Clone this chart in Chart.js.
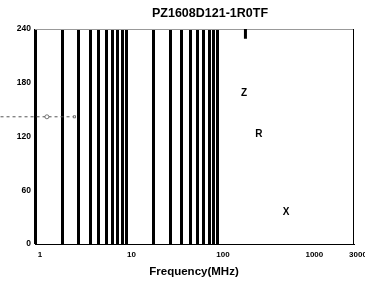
<!DOCTYPE html>
<html lang="en">
<head>
    <meta charset="UTF-8">
    <script src="https://cdn.jsdelivr.net/npm/chart.js"></script>
    <title>PZ1608D121-1R0TF</title>
    <style>
        body { margin: 0; background: #fff; overflow: hidden; }
    </style>
</head>
<body>
    <canvas id="impChart" width="365" height="281"></canvas>

    <script>
    // frequency grid (MHz) drawn as heavy vertical lines
    const gridFreqs = [1, 2, 3, 4, 5, 6, 7, 8, 9, 10, 20, 30, 40, 50, 60, 70, 80, 90, 100];
    const freqLabels = [1, 10, 100, 1000, 3000];
    const impTicks = [0, 60, 120, 180, 240];

    // curve names and where they sit (freq, ohm)
    const curveNames = ['Z', 'R', 'X'];
    const nameFreq = [193, 281, 555];
    const nameImp = [168, 123, 35];

    // short mark at the top near 200 MHz
    const markFreq = [200, 200];
    const markImp = [240, 229];

    // stray dashed legend stub on the left
    const stubFreq = [0.42, 1.35, 2.7];
    const stubImp = [142, 142, 142];

    const font = 'Liberation Sans, Arial, sans-serif';

    const extras = {
        id: 'extras',
        beforeDatasetsDraw(chart) {
            const {ctx, chartArea: a} = chart;
            ctx.save();
            ctx.lineWidth = 1;
            ctx.strokeStyle = '#999';
            ctx.beginPath();
            ctx.moveTo(a.left, a.top + 0.5);
            ctx.lineTo(a.right, a.top + 0.5);
            ctx.stroke();
            ctx.strokeStyle = '#000';
            ctx.beginPath();
            ctx.moveTo(a.right + 0.5, a.top);
            ctx.lineTo(a.right + 0.5, a.bottom);
            ctx.stroke();
            ctx.restore();
        },
        afterDraw(chart) {
            const {ctx, chartArea: a, scales} = chart;
            ctx.save();
            ctx.fillStyle = '#000';
            ctx.textAlign = 'center';
            ctx.textBaseline = 'middle';
            ctx.font = 'bold 12.5px ' + font;
            ctx.fillText('PZ1608D121-1R0TF', 210, 14);
            ctx.font = 'bold 11.5px ' + font;
            ctx.fillText('Frequency(MHz)', (a.left + a.right) / 2, 272);
            ctx.font = 'bold 10px ' + font;
            curveNames.forEach((n, i) => {
                ctx.fillText(n, scales.x.getPixelForValue(nameFreq[i]), scales.y.getPixelForValue(nameImp[i]));
            });
            ctx.restore();
        }
    };

    new Chart(document.getElementById('impChart'), {
        type: 'line',
        data: {
            datasets: [{
                data: markFreq.map((f, i) => ({x: f, y: markImp[i]})),
                borderColor: '#000',
                borderWidth: 3,
                pointRadius: 0
            }, {
                data: stubFreq.map((f, i) => ({x: f, y: stubImp[i]})),
                borderColor: '#555',
                borderWidth: 1,
                borderDash: [3, 3],
                pointRadius: [0, 2, 1.5],
                pointStyle: ['circle', 'circle', 'rect'],
                pointBorderColor: '#555',
                pointBackgroundColor: '#fff',
                pointBorderWidth: 0.8,
                clip: false
            }]
        },
        options: {
            responsive: false,
            animation: false,
            layout: { padding: { top: 29, right: 12, left: 0, bottom: 0 } },
            plugins: {
                legend: { display: false },
                tooltip: { enabled: false }
            },
            scales: {
                x: {
                    type: 'logarithmic',
                    min: 1,
                    max: 3000,
                    afterBuildTicks: (s) => {
                        s.ticks = gridFreqs.concat([1000, 3000]).map(v => ({value: v}));
                    },
                    afterFit: (s) => {
                        s.height = 37;
                        s.paddingLeft = 0;
                        s.paddingRight = 0;
                    },
                    grid: {
                        drawTicks: false,
                        color: '#000',
                        lineWidth: (c) => (c.tick && c.tick.value <= 100 ? 3 : 0)
                    },
                    border: { color: '#000', width: 1 },
                    ticks: {
                        autoSkip: false,
                        maxRotation: 0,
                        padding: 6,
                        labelOffset: 5,
                        color: '#000',
                        font: { family: font, size: 8, weight: 'bold' },
                        callback: (v) => (freqLabels.includes(v) ? String(v) : '')
                    }
                },
                y: {
                    min: 0,
                    max: 240,
                    afterBuildTicks: (s) => {
                        s.ticks = impTicks.map(v => ({value: v}));
                    },
                    afterFit: (s) => {
                        s.width = 35;
                        s.paddingTop = 0;
                        s.paddingBottom = 0;
                    },
                    grid: { display: false, drawTicks: false },
                    border: { display: false },
                    ticks: {
                        padding: 4,
                        color: '#000',
                        font: { family: font, size: 8.5, weight: 'bold' }
                    }
                }
            }
        },
        plugins: [extras]
    });
    </script>
</body>
</html>
